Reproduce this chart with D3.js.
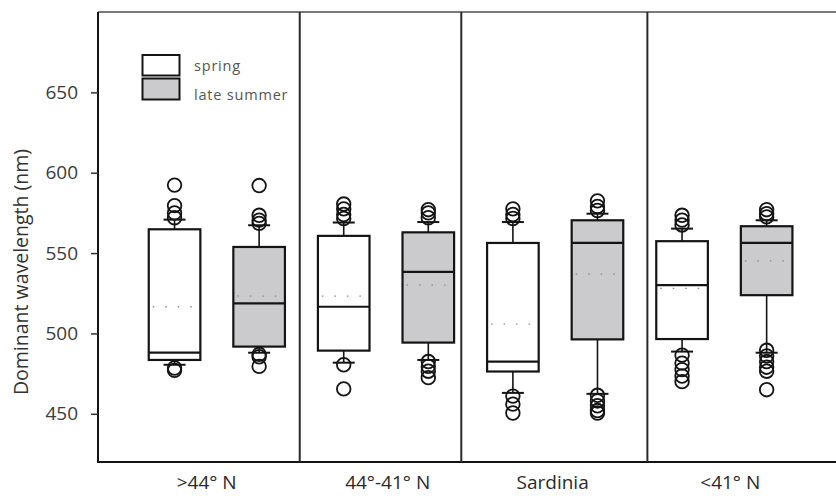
<!DOCTYPE html>
<html>
<head>
<meta charset="utf-8">
<script src="https://cdn.jsdelivr.net/npm/d3@7"></script>
<style>
  html, body { margin: 0; padding: 0; background: #fff; }
  svg { display: block; font-family: "Open Sans", "DejaVu Sans", sans-serif; }
</style>
</head>
<body>
<svg id="chart" width="836" height="496"></svg>
<script>
// Regions along the x axis and the two sampling seasons
const regions = [">44° N", "44°-41° N", "Sardinia", "<41° N"];
const seasons = ["spring", "late summer"];
const yTicks = [450, 500, 550, 600, 650];

// Box statistics per region (nm)
const springQ1     = [483.5, 489.3, 476.3, 496.5];
const springMedian = [488.0, 516.6, 482.5, 530.0];
const springQ3     = [564.8, 560.7, 556.3, 557.4];
const springMean   = [516.6, 523.2, 505.8, 528.0];
const springLow    = [480.5, 481.8, 463.0, 488.7];
const springHigh   = [570.8, 569.0, 569.3, 565.2];
const springOutliers = [
  [592.3, 579.5, 575.0, 572.0, 478.5, 477.0],
  [580.5, 577.5, 574.0, 571.5, 480.5, 465.5],
  [577.5, 574.0, 571.5, 461.0, 456.0, 450.5],
  [573.5, 570.5, 567.5, 486.5, 481.5, 477.5, 473.5, 470.0]
];

const summerQ1     = [491.8, 494.3, 496.3, 523.8];
const summerMedian = [518.7, 538.3, 556.3, 556.3];
const summerQ3     = [553.8, 562.9, 570.4, 566.7];
const summerMean   = [523.2, 530.0, 536.9, 545.1];
const summerLow    = [488.0, 483.5, 462.4, 488.0];
const summerHigh   = [567.3, 569.3, 574.5, 570.4];
const summerOutliers = [
  [592.0, 573.5, 570.5, 568.5, 487.0, 485.5, 479.5],
  [577.0, 575.0, 572.0, 482.5, 479.5, 476.5, 472.5],
  [582.5, 579.0, 576.5, 461.5, 458.0, 455.0, 452.0, 450.5],
  [577.0, 574.5, 572.5, 489.5, 486.0, 482.5, 479.0, 476.5, 465.0]
];

// Slot positions on the x axis (one slot per box), region separators and label centres
const separators = [1.48, 3.39, 5.59];
const labelSlots = [0.38, 2.52, 4.47, 6.57];
const boxWidthSlots = 0.61;

const svg = d3.select("#chart");
const W = 836, H = 496;
const plotLeft = 98, plotTop = 12, plotBottom = 462;

const x = d3.scaleLinear().domain([-0.905, 7.82]).range([plotLeft, W]);
const y = d3.scaleLinear().domain([420, 700]).range([plotBottom, plotTop]);

const fills = { "spring": "#ffffff", "late summer": "#cbcbcd" };
const ink = "#141414";

// Assemble one record per box
const boxes = [];
regions.forEach((r, i) => {
  boxes.push({ region: r, season: seasons[0], slot: i * 2,
    q1: springQ1[i], med: springMedian[i], q3: springQ3[i], mean: springMean[i],
    lo: springLow[i], hi: springHigh[i], out: springOutliers[i] });
  boxes.push({ region: r, season: seasons[1], slot: i * 2 + 1,
    q1: summerQ1[i], med: summerMedian[i], q3: summerQ3[i], mean: summerMean[i],
    lo: summerLow[i], hi: summerHigh[i], out: summerOutliers[i] });
});

const bw = x(boxWidthSlots) - x(0);
const capW = 22;

// Frame: top rule, bottom rule, region separators
svg.append("line").attr("x1", plotLeft).attr("x2", W).attr("y1", plotTop).attr("y2", plotTop)
  .attr("stroke", "#7a7a7a").attr("stroke-width", 2);
svg.append("line").attr("x1", plotLeft - 1).attr("x2", W).attr("y1", plotBottom).attr("y2", plotBottom)
  .attr("stroke", ink).attr("stroke-width", 2);
svg.selectAll("line.sep").data(separators).join("line").attr("class", "sep")
  .attr("x1", d => x(d)).attr("x2", d => x(d))
  .attr("y1", plotTop).attr("y2", plotBottom)
  .attr("stroke", "#2a2a2a").attr("stroke-width", 2);

// Y axis
const yAxis = svg.append("g").attr("transform", `translate(${plotLeft},0)`)
  .call(d3.axisLeft(y).tickValues(yTicks).tickSize(7).tickSizeOuter(0).tickPadding(13));
yAxis.select(".domain").attr("stroke", ink).attr("stroke-width", 2)
  .attr("d", `M0,${plotTop}V${plotBottom}`);
yAxis.selectAll(".tick line").attr("stroke", "#333").attr("stroke-width", 1.5);
yAxis.selectAll(".tick text").attr("font-size", 19).attr("fill", "#3a3a3a")
  .attr("font-family", "'Open Sans', sans-serif");

svg.append("text")
  .attr("transform", `translate(28,272) rotate(-90)`)
  .attr("text-anchor", "middle").attr("font-size", 19.5).attr("fill", "#333")
  .text("Dominant wavelength (nm)");

// Region labels
svg.selectAll("text.region").data(regions).join("text").attr("class", "region")
  .attr("x", (d, i) => x(labelSlots[i])).attr("y", 489)
  .attr("text-anchor", "middle").attr("font-size", 19).attr("fill", "#2a2a2a")
  .text(d => d);

// Boxes
const g = svg.selectAll("g.box").data(boxes).join("g").attr("class", "box")
  .attr("transform", d => `translate(${x(d.slot)},0)`);

// whiskers
g.append("line").attr("x1", 0).attr("x2", 0)
  .attr("y1", d => y(d.q3)).attr("y2", d => y(d.hi))
  .attr("stroke", ink).attr("stroke-width", 1.6);
g.append("line").attr("x1", 0).attr("x2", 0)
  .attr("y1", d => y(d.q1)).attr("y2", d => y(d.lo))
  .attr("stroke", ink).attr("stroke-width", 1.6);
g.append("line").attr("x1", -capW / 2).attr("x2", capW / 2)
  .attr("y1", d => y(d.hi)).attr("y2", d => y(d.hi))
  .attr("stroke", ink).attr("stroke-width", 2);
g.append("line").attr("x1", -capW / 2).attr("x2", capW / 2)
  .attr("y1", d => y(d.lo)).attr("y2", d => y(d.lo))
  .attr("stroke", ink).attr("stroke-width", 2);

// box body
g.append("rect")
  .attr("x", -bw / 2).attr("width", bw)
  .attr("y", d => y(d.q3)).attr("height", d => y(d.q1) - y(d.q3))
  .attr("fill", d => fills[d.season]).attr("stroke", ink).attr("stroke-width", 2.2);

// mean (dotted) and median
g.append("line").attr("x1", -bw / 2 + 4).attr("x2", bw / 2 - 3)
  .attr("y1", d => y(d.mean)).attr("y2", d => y(d.mean))
  .attr("stroke", "#8a8a8a").attr("stroke-width", 1.3).attr("stroke-dasharray", "1.5,11");
g.append("line").attr("x1", -bw / 2).attr("x2", bw / 2)
  .attr("y1", d => y(d.med)).attr("y2", d => y(d.med))
  .attr("stroke", ink).attr("stroke-width", 2.2);

// outlying points
g.selectAll("circle").data(d => d.out).join("circle")
  .attr("cx", 0).attr("cy", d => y(d)).attr("r", 6.8)
  .attr("fill", "none").attr("stroke", ink).attr("stroke-width", 1.8);

// Legend
const leg = svg.append("g");
leg.append("rect").attr("x", 142.5).attr("y", 55).attr("width", 37).attr("height", 20.5)
  .attr("fill", fills["spring"]).attr("stroke", ink).attr("stroke-width", 2);
leg.append("rect").attr("x", 142.5).attr("y", 78.5).attr("width", 37).attr("height", 21)
  .attr("fill", fills["late summer"]).attr("stroke", ink).attr("stroke-width", 2);
leg.append("text").attr("x", 194).attr("y", 71).attr("font-size", 14.5)
  .attr("fill", "#555").attr("letter-spacing", 0.8).text(seasons[0]);
leg.append("text").attr("x", 194).attr("y", 100).attr("font-size", 14.5)
  .attr("fill", "#555").attr("letter-spacing", 0.8).text(seasons[1]);
</script>
</body>
</html>
